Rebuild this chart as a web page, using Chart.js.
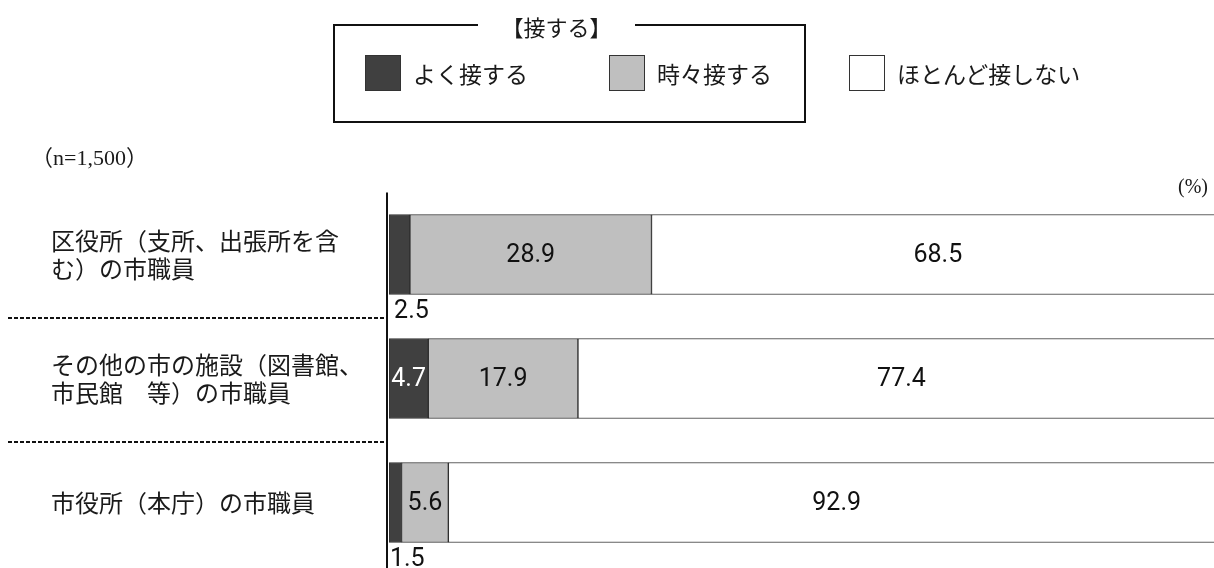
<!DOCTYPE html>
<html lang="ja">
<head>
<meta charset="utf-8">
<title>市職員と接する頻度</title>
<script src="https://cdn.jsdelivr.net/npm/chart.js@4.4.1/dist/chart.umd.min.js"></script>
<style>
  html, body { margin: 0; padding: 0; background: #fff; width: 1214px; height: 568px; overflow: hidden; }
  #wrap { position: relative; width: 1214px; height: 568px; overflow: hidden; }
  #c { position: absolute; left: 0; top: 0; }
  .jp { font-family: "Noto Sans CJK JP", sans-serif; color: #1a1a1a; position: absolute; white-space: nowrap; }
  #legendBox { position: absolute; left: 333px; top: 24px; width: 469px; height: 95px; border: 2px solid #111; }
  #legendTitle { left: 478px; top: 11px; width: 157px; height: 30px; line-height: 30px; text-align: center; background: #fff; font-size: 22px; }
  .swatch { position: absolute; top: 55px; width: 36px; height: 36px; box-sizing: border-box; border: 1px solid #333; }
  .legText { top: 55px; height: 36px; line-height: 36px; font-size: 23px; }
  #nNote { left: 31px; top: 144px; font-size: 22px; line-height: 28px; font-family: "Liberation Serif", "Noto Sans CJK JP", serif; }
  #unit { left: 1178px; top: 174px; font-size: 20px; line-height: 24px; font-family: "Liberation Serif", serif; }
</style>
</head>
<body>
<div id="wrap">
  <canvas id="c" width="1240" height="568"></canvas>
  <div id="legendBox"></div>
  <div id="legendTitle" class="jp">【接する】</div>
  <div id="nNote" class="jp">（n=1,500）</div>
  <div id="unit" class="jp">(%)</div>
</div>
<script>
// Facility categories (multi-line labels as drawn on the left)
const categories = [
  ['区役所（支所、出張所を含', 'む）の市職員'],
  ['その他の市の施設（図書館、', '市民館　等）の市職員'],
  '市役所（本庁）の市職員'
];

// Response series (%)
const seriesNames = ['よく接する', '時々接する', 'ほとんど接しない'];
const oftenValues = [2.5, 4.7, 1.5];
const sometimesValues = [28.9, 17.9, 5.6];
const rarelyValues = [68.5, 77.4, 92.9];
const seriesColors = ['#404040', '#bfbfbf', '#ffffff'];
const labelColors = ['#ffffff', '#111111', '#111111'];

// Legend swatches and labels
const legendLefts = [365, 609, 849];
const wrap = document.getElementById('wrap');
seriesNames.forEach((name, i) => {
  const sw = document.createElement('div');
  sw.className = 'swatch';
  sw.style.left = legendLefts[i] + 'px';
  sw.style.background = seriesColors[i];
  wrap.appendChild(sw);
  const tx = document.createElement('div');
  tx.className = 'jp legText';
  tx.style.left = (legendLefts[i] + 48) + 'px';
  tx.textContent = name;
  wrap.appendChild(tx);
});

const seriesValues = [oftenValues, sometimesValues, rarelyValues];

// Vertical axis line and dashed separators between categories
const framePlugin = {
  id: 'frame',
  afterDraw(chart) {
    const { ctx, chartArea } = chart;
    const y = chart.scales.y;
    ctx.save();
    ctx.strokeStyle = '#111';
    ctx.lineWidth = 2;
    ctx.beginPath();
    ctx.moveTo(chartArea.left - 2, chartArea.top);
    ctx.lineTo(chartArea.left - 2, chart.height);
    ctx.stroke();
    ctx.setLineDash([4, 2]);
    for (let j = 0; j < categories.length - 1; j++) {
      const yy = Math.round((y.getPixelForValue(j) + y.getPixelForValue(j + 1)) / 2) + 1;
      ctx.beginPath();
      ctx.moveTo(8, yy);
      ctx.lineTo(chartArea.left - 3, yy);
      ctx.stroke();
    }
    ctx.restore();
  }
};

// Value labels: inside the segment, or just below the bar for thin segments
const valueLabelPlugin = {
  id: 'valueLabels',
  afterDatasetsDraw(chart) {
    const { ctx } = chart;
    ctx.save();
    ctx.font = '25px Roboto, "Liberation Sans", sans-serif';
    ctx.textBaseline = 'middle';
    ctx.textAlign = 'center';
    chart.data.datasets.forEach((ds, i) => {
      const meta = chart.getDatasetMeta(i);
      meta.data.forEach((bar, j) => {
        const v = ds.data[j];
        const props = bar.getProps(['x', 'y', 'base', 'height'], true);
        const cx = (props.x + props.base) / 2;
        if (v < 3) {
          ctx.fillStyle = '#111';
          ctx.fillText(v.toFixed(1), cx + 12, props.y + props.height / 2 + 17);
        } else {
          ctx.fillStyle = labelColors[i];
          ctx.fillText(v.toFixed(1), cx, props.y + 1);
        }
      });
    });
    ctx.restore();
  }
};

new Chart(document.getElementById('c'), {
  type: 'bar',
  data: {
    labels: categories,
    datasets: seriesValues.map((vals, i) => ({
      label: seriesNames[i],
      data: vals,
      backgroundColor: seriesColors[i],
      borderColor: '#2e2e2e',
      borderWidth: 1,
      borderSkipped: false,
      barThickness: 80
    }))
  },
  options: {
    indexAxis: 'y',
    responsive: false,
    animation: false,
    layout: { padding: { left: 51, right: 15, top: 192.5, bottom: 3.5 } },
    plugins: { legend: { display: false }, tooltip: { enabled: false } },
    scales: {
      x: { stacked: true, min: 0, max: 100, display: false },
      y: {
        stacked: true,
        grid: { display: false },
        border: { display: false },
        afterFit(scale) {
          scale.width = 338;
          scale.paddingTop = 0;
          scale.paddingBottom = 0;
        },
        ticks: {
          crossAlign: 'far',
          padding: 0,
          color: '#1a1a1a',
          font: { family: '"Noto Sans CJK JP", sans-serif', size: 24, lineHeight: 1.17 }
        }
      }
    }
  },
  plugins: [framePlugin, valueLabelPlugin]
});
</script>
</body>
</html>
